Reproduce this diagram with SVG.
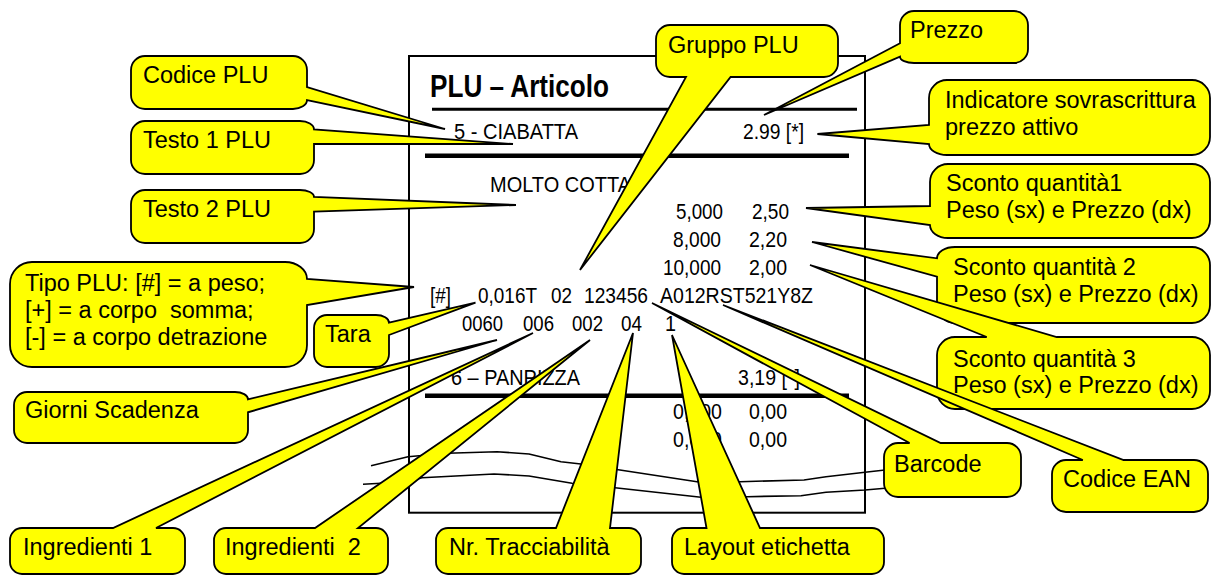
<svg xmlns="http://www.w3.org/2000/svg" width="1220" height="576" viewBox="0 0 1220 576">
<style>
.bg{fill:#ffffff}
.paper{fill:#ffffff;stroke:#000;stroke-width:2}
.rule{stroke:#000}
.tear{fill:none;stroke:#000;stroke-width:1.6;stroke-linejoin:round}
.rt{font-family:"Liberation Sans",Arial,sans-serif;font-size:22px;fill:#000}
.hd{font-family:"Liberation Sans",Arial,sans-serif;font-size:31px;font-weight:bold;fill:#000}
.co{fill:#FFFF00;stroke:#000;stroke-width:1.8;stroke-linejoin:miter}
.lbl{font-family:"Liberation Sans",Arial,sans-serif;font-size:23.5px;fill:#000}
</style>
<rect class="bg" x="0" y="0" width="1220" height="576"/>

<g id="receipt">
  <rect class="paper" x="409" y="56" width="456" height="456.7"/>
  <text class="hd" x="430" y="97" textLength="179" lengthAdjust="spacingAndGlyphs">PLU – Articolo</text>
  <line class="rule" x1="432" y1="109.3" x2="857" y2="109.3" stroke-width="3"/>
  <text class="rt" x="454" y="139" textLength="124" lengthAdjust="spacingAndGlyphs">5 - CIABATTA</text>
  <text class="rt" x="743" y="139" textLength="61" lengthAdjust="spacingAndGlyphs">2.99 [*]</text>
  <line class="rule" x1="425" y1="155.7" x2="849" y2="155.7" stroke-width="4.5"/>
  <text class="rt" x="490" y="192" textLength="141" lengthAdjust="spacingAndGlyphs">MOLTO COTTA</text>
  <text class="rt" x="676" y="219" textLength="47" lengthAdjust="spacingAndGlyphs">5,000</text>
  <text class="rt" x="752" y="219" textLength="37" lengthAdjust="spacingAndGlyphs">2,50</text>
  <text class="rt" x="673" y="247" textLength="48" lengthAdjust="spacingAndGlyphs">8,000</text>
  <text class="rt" x="749" y="247" textLength="38" lengthAdjust="spacingAndGlyphs">2,20</text>
  <text class="rt" x="663" y="275" textLength="58" lengthAdjust="spacingAndGlyphs">10,000</text>
  <text class="rt" x="749" y="275" textLength="38" lengthAdjust="spacingAndGlyphs">2,00</text>
  <text class="rt" x="430" y="303" textLength="21" lengthAdjust="spacingAndGlyphs">[#]</text>
  <text class="rt" x="478" y="303" textLength="59" lengthAdjust="spacingAndGlyphs">0,016T</text>
  <text class="rt" x="551" y="303" textLength="21" lengthAdjust="spacingAndGlyphs">02</text>
  <text class="rt" x="584" y="303" textLength="64" lengthAdjust="spacingAndGlyphs">123456</text>
  <text class="rt" x="660" y="303" textLength="153" lengthAdjust="spacingAndGlyphs">A012RST521Y8Z</text>
  <text class="rt" x="462" y="331" textLength="41" lengthAdjust="spacingAndGlyphs">0060</text>
  <text class="rt" x="523" y="331" textLength="31" lengthAdjust="spacingAndGlyphs">006</text>
  <text class="rt" x="572" y="331" textLength="31" lengthAdjust="spacingAndGlyphs">002</text>
  <text class="rt" x="621" y="331" textLength="21" lengthAdjust="spacingAndGlyphs">04</text>
  <text class="rt" x="665" y="331" textLength="11" lengthAdjust="spacingAndGlyphs">1</text>
  <text class="rt" x="451" y="385" textLength="129" lengthAdjust="spacingAndGlyphs">6 – PANPIZZA</text>
  <text class="rt" x="738" y="385" textLength="62" lengthAdjust="spacingAndGlyphs">3,19 [*]</text>
  <line class="rule" x1="425" y1="395.7" x2="849" y2="395.7" stroke-width="4.5"/>
  <text class="rt" x="673" y="419" textLength="49" lengthAdjust="spacingAndGlyphs">0,000</text>
  <text class="rt" x="749" y="419" textLength="38" lengthAdjust="spacingAndGlyphs">0,00</text>
  <text class="rt" x="673" y="447" textLength="49" lengthAdjust="spacingAndGlyphs">0,000</text>
  <text class="rt" x="749" y="447" textLength="38" lengthAdjust="spacingAndGlyphs">0,00</text>
  <polyline class="tear" points="371,465.7 408,456.7 447,453.3 497,451.7 529,454 561,461.7 583,464.3 615,469.3 697,481.7 740,481.7 804,480 826,476.7 865,472.3 885,470"/>
  <polyline class="tear" points="363,484.3 408,481.7 422,477.7 494,474 529,476 572,483.3 615,487.7 701,497.3 747,496.7 801,495.7 826,492.3 865,490 885,488.3"/>
</g>

<g id="connectors"><!-- callout pointers are drawn as part of each callout shape --></g>

<g id="codice-plu">
  <path class="co" d="M145,56 H293 A14,14 0 0 1 307,70 V87 L445,129 L307,100 A14,9 0 0 1 293,109 H145 A14,14 0 0 1 131,95 V70 A14,14 0 0 1 145,56 Z"/>
  <text class="lbl" x="143" y="83">Codice PLU</text>
</g>
<g id="testo-1-plu">
  <path class="co" d="M145,121 H300 A14,8.3 0 0 1 314,129.3 L513,144 L314,144 V160 A14,14 0 0 1 300,174 H145 A14,14 0 0 1 131,160 V135 A14,14 0 0 1 145,121 Z"/>
  <text class="lbl" x="143" y="148">Testo 1 PLU</text>
</g>
<g id="testo-2-plu">
  <path class="co" d="M145,190 H300 A14,7 0 0 1 314,197 L516,205 L314,211.7 V229 A14,14 0 0 1 300,243 H145 A14,14 0 0 1 131,229 V204 A14,14 0 0 1 145,190 Z"/>
  <text class="lbl" x="143" y="216.7">Testo 2 PLU</text>
</g>
<g id="tipo-plu">
  <path class="co" d="M32,262 H285 A22,17 0 0 1 307,279 L414,287 L307,305 V345 A22,22 0 0 1 285,367 H32 A22,22 0 0 1 10,345 V284 A22,22 0 0 1 32,262 Z"/>
  <text class="lbl" x="25" y="290.7">Tipo PLU: [#] = a peso;</text>
  <text class="lbl" x="25" y="318.3" xml:space="preserve">[+] = a corpo  somma;</text>
  <text class="lbl" x="25" y="345">[-] = a corpo detrazione</text>
</g>
<g id="tara">
  <path class="co" d="M327,315 H376 A13,7.7 0 0 1 389,322.7 L475.5,302.7 L389,335 V354 A13,13 0 0 1 376,367 H327 A13,13 0 0 1 314,354 V328 A13,13 0 0 1 327,315 Z"/>
  <text class="lbl" x="325" y="341.7">Tara</text>
</g>
<g id="giorni-scadenza">
  <path class="co" d="M27,392 H235 A13,7.3 0 0 1 248,399.3 L497,340 L248,412.3 V430 A13,13 0 0 1 235,443 H27 A13,13 0 0 1 14,430 V405 A13,13 0 0 1 27,392 Z"/>
  <text class="lbl" x="25" y="418.3">Giorni Scadenza</text>
</g>
<g id="gruppo-plu">
  <path class="co" d="M670,25 H824 A14,14 0 0 1 838,39 V63 A14,14 0 0 1 824,77 H730.6 L580,270 L686,77 H670 A14,14 0 0 1 656,63 V39 A14,14 0 0 1 670,25 Z"/>
  <text class="lbl" x="668" y="53.3">Gruppo PLU</text>
</g>
<g id="prezzo">
  <path class="co" d="M914,11 H1014 A14,14 0 0 1 1028,25 V49 A14,14 0 0 1 1014,63 H914 A14,6.3 0 0 1 900,56.7 L764,115 L900,43.3 V25 A14,14 0 0 1 914,11 Z"/>
  <text class="lbl" x="910" y="38.3">Prezzo</text>
</g>
<g id="indicatore-sovrascrittura">
  <path class="co" d="M947,80 H1192 A18,18 0 0 1 1210,98 V137 A18,18 0 0 1 1192,155 H947 A18,11 0 0 1 929,144 L817.4,134 L929,125 V98 A18,18 0 0 1 947,80 Z"/>
  <text class="lbl" x="945" y="108.3">Indicatore sovrascrittura</text>
  <text class="lbl" x="945" y="135">prezzo attivo</text>
</g>
<g id="sconto-1">
  <path class="co" d="M948,164 H1192 A18,18 0 0 1 1210,182 V220 A18,18 0 0 1 1192,238 H948 A18,13 0 0 1 930,225 L806,208 L930,206 V182 A18,18 0 0 1 948,164 Z"/>
  <text class="lbl" x="946" y="190.7">Sconto quantità1</text>
  <text class="lbl" x="946" y="218.3">Peso (sx) e Prezzo (dx)</text>
</g>
<g id="sconto-2">
  <path class="co" d="M955,247 H1192 A18,18 0 0 1 1210,265 V305 A18,18 0 0 1 1192,323 H955 A18,18 0 0 1 937,305 V276.7 L812,242 L937,258.3 A18,11.3 0 0 1 955,247 Z"/>
  <text class="lbl" x="953" y="275">Sconto quantità 2</text>
  <text class="lbl" x="953" y="301.7">Peso (sx) e Prezzo (dx)</text>
</g>
<g id="sconto-3">
  <path class="co" d="M955,337 H986.7 L810,265 L1056.7,337 H1192 A18,18 0 0 1 1210,355 V391 A18,18 0 0 1 1192,409 H955 A18,18 0 0 1 937,391 V355 A18,18 0 0 1 955,337 Z"/>
  <text class="lbl" x="953" y="366.7">Sconto quantità 3</text>
  <text class="lbl" x="953" y="393.3">Peso (sx) e Prezzo (dx)</text>
</g>
<g id="ingredienti-1">
  <path class="co" d="M22,528 H113 L533,333 L156,528 H173 A12,12 0 0 1 185,540 V562 A12,12 0 0 1 173,574 H22 A12,12 0 0 1 10,562 V540 A12,12 0 0 1 22,528 Z"/>
  <text class="lbl" x="23" y="555">Ingredienti 1</text>
</g>
<g id="ingredienti-2">
  <path class="co" d="M226,528 H315 L590,340 L358,528 H376 A12,12 0 0 1 388,540 V562 A12,12 0 0 1 376,574 H226 A12,12 0 0 1 214,562 V540 A12,12 0 0 1 226,528 Z"/>
  <text class="lbl" x="225" y="555" xml:space="preserve">Ingredienti  2</text>
</g>
<g id="nr-tracciabilita">
  <path class="co" d="M448,528 H556 L633,333 L610,528 H629 A12,12 0 0 1 641,540 V562 A12,12 0 0 1 629,574 H448 A12,12 0 0 1 436,562 V540 A12,12 0 0 1 448,528 Z"/>
  <text class="lbl" x="449" y="555">Nr. Tracciabilità</text>
</g>
<g id="layout-etichetta">
  <path class="co" d="M684,528 H706.5 L672,335 L760,528 H872 A12,12 0 0 1 884,540 V562 A12,12 0 0 1 872,574 H684 A12,12 0 0 1 672,562 V540 A12,12 0 0 1 684,528 Z"/>
  <text class="lbl" x="684" y="555">Layout etichetta</text>
</g>
<g id="barcode">
  <path class="co" d="M898,443 H909.6 L652,303 L940.7,443 H1007 A14,14 0 0 1 1021,457 V483 A14,14 0 0 1 1007,497 H898 A14,14 0 0 1 884,483 V457 A14,14 0 0 1 898,443 Z"/>
  <text class="lbl" x="894" y="471.7">Barcode</text>
</g>
<g id="codice-ean">
  <path class="co" d="M1066,460 H1082.8 L723,305 L1123.6,460 H1194 A14,14 0 0 1 1208,474 V498 A14,14 0 0 1 1194,512 H1066 A14,14 0 0 1 1052,498 V474 A14,14 0 0 1 1066,460 Z"/>
  <text class="lbl" x="1063" y="486.7">Codice EAN</text>
</g>
</svg>
